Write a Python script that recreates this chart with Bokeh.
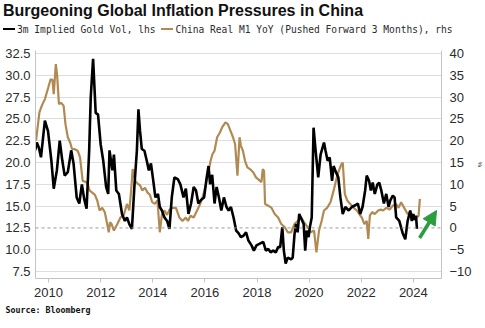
from bokeh.plotting import figure
from bokeh.layouts import column
from bokeh.models import (Range1d, LinearAxis, FixedTicker, Span, Arrow, Title,
                          NormalHead, NumeralTickFormatter, Div)
from bokeh.embed import file_html
from bokeh.resources import INLINE

# ---------------- data ----------------
vol_t = [2009.49, 2009.55, 2009.63, 2009.71, 2009.86, 2009.98, 2010.11, 2010.20, 2010.32, 2010.43,
         2010.53, 2010.62, 2010.74, 2010.87, 2010.96, 2011.08, 2011.18, 2011.28, 2011.37, 2011.46,
         2011.56, 2011.62, 2011.71, 2011.81, 2011.90, 2012.00, 2012.10, 2012.21, 2012.29, 2012.34,
         2012.45, 2012.51, 2012.60, 2012.70, 2012.82, 2012.93, 2013.01, 2013.10, 2013.20, 2013.30,
         2013.39, 2013.45, 2013.51, 2013.58, 2013.68, 2013.77, 2013.85, 2013.93, 2014.02, 2014.10,
         2014.20, 2014.27, 2014.35, 2014.45, 2014.55, 2014.64, 2014.73, 2014.83, 2014.96, 2015.06,
         2015.18, 2015.27, 2015.37, 2015.47, 2015.57, 2015.66, 2015.75, 2015.85, 2015.97, 2016.07,
         2016.14, 2016.20, 2016.28, 2016.37, 2016.45, 2016.54, 2016.63, 2016.73, 2016.83, 2016.91,
         2017.00, 2017.10, 2017.20, 2017.29, 2017.38, 2017.48, 2017.58, 2017.67, 2017.79, 2017.88,
         2017.98, 2018.11, 2018.24, 2018.34, 2018.43, 2018.52, 2018.62, 2018.72, 2018.81, 2018.89,
         2018.97, 2019.03, 2019.10, 2019.18, 2019.31, 2019.37, 2019.44, 2019.50, 2019.56, 2019.62,
         2019.71, 2019.79, 2019.85, 2019.91, 2019.98, 2020.03, 2020.10, 2020.17, 2020.25, 2020.35,
         2020.44, 2020.57, 2020.63, 2020.71, 2020.79, 2020.88, 2020.94, 2021.03, 2021.12, 2021.20,
         2021.29, 2021.39, 2021.52, 2021.64, 2021.77, 2021.87, 2021.96, 2022.05, 2022.15, 2022.21,
         2022.30, 2022.37, 2022.44, 2022.52, 2022.62, 2022.69, 2022.77, 2022.87, 2022.96, 2023.05,
         2023.12, 2023.21, 2023.28, 2023.34, 2023.46, 2023.59, 2023.69, 2023.78, 2023.88, 2023.94,
         2024.00, 2024.05, 2024.10, 2024.14]
vol_v = [21.4, 22.3, 21.7, 20.6, 24.8, 23.6, 20.2, 17.0, 19.1, 22.5,
         20.2, 18.5, 18.9, 21.4, 19.9, 16.0, 15.3, 17.5, 15.8, 14.7,
         21.4, 27.5, 31.9, 25.7, 25.5, 22.1, 20.2, 17.2, 16.4, 21.4,
         19.1, 20.9, 16.8, 16.4, 14.1, 13.3, 13.7, 12.95, 12.4, 17.5,
         21.35, 26.1, 23.65, 21.55, 21.35, 20.2, 19.1, 19.9, 17.9, 16.0,
         16.4, 14.9, 14.5, 13.7, 13.3, 12.4, 16.0, 18.3, 18.1, 17.5,
         16.0, 17.0, 14.1, 15.3, 17.2, 16.8, 15.3, 15.7, 16.0, 18.3,
         19.6, 17.5, 18.6, 15.3, 17.2, 16.0, 14.5, 16.0, 14.9, 14.5,
         14.9, 13.7, 12.2, 11.9, 11.45, 11.6, 12.0, 11.05, 10.5, 9.9,
         10.5, 10.7, 10.9, 9.9, 10.1, 9.7, 9.9, 9.7, 10.3, 10.3,
         12.6, 9.9, 8.4, 9.1, 8.9, 9.1, 11.8, 12.95, 12.0, 14.1,
         13.5, 12.95, 9.9, 12.2, 11.45, 12.6, 13.7, 24.0, 21.35, 18.3,
         20.9, 22.3, 21.35, 20.2, 20.6, 17.9, 19.6, 18.9, 18.3, 16.0,
         14.1, 14.9, 14.5, 14.9, 15.1, 15.3, 14.1, 14.9, 16.8, 18.5,
         17.9, 16.8, 17.7, 16.4, 17.5, 17.7, 16.8, 15.3, 16.4, 14.9,
         15.7, 16.2, 16.0, 13.7, 13.3, 11.9, 11.2, 13.3, 14.5, 13.3,
         14.1, 13.4, 13.9, 12.4]

m1_t = [2009.52, 2009.65, 2009.74, 2009.86, 2009.99, 2010.08, 2010.15, 2010.20, 2010.28, 2010.33,
        2010.40, 2010.49, 2010.58, 2010.65, 2010.74, 2010.83, 2010.90, 2010.99, 2011.12, 2011.21,
        2011.31, 2011.41, 2011.49, 2011.58, 2011.68, 2011.78, 2011.87, 2011.96, 2012.06, 2012.16,
        2012.25, 2012.31, 2012.36, 2012.42, 2012.51, 2012.64, 2012.76, 2012.89, 2013.01, 2013.10,
        2013.17, 2013.23, 2013.33, 2013.43, 2013.51, 2013.60, 2013.70, 2013.80, 2013.89, 2013.98,
        2014.08, 2014.18, 2014.27, 2014.35, 2014.45, 2014.55, 2014.64, 2014.77, 2014.89, 2015.02,
        2015.14, 2015.27, 2015.35, 2015.45, 2015.57, 2015.70, 2015.82, 2015.95, 2016.04, 2016.12,
        2016.22, 2016.29, 2016.37, 2016.47, 2016.58, 2016.66, 2016.79, 2016.88, 2016.98, 2017.08,
        2017.16, 2017.25, 2017.33, 2017.38, 2017.46, 2017.54, 2017.63, 2017.73, 2017.86, 2017.96,
        2018.04, 2018.17, 2018.22, 2018.27, 2018.31, 2018.43, 2018.56, 2018.68, 2018.81, 2018.93,
        2019.06, 2019.18, 2019.31, 2019.44, 2019.56, 2019.69, 2019.81, 2019.94, 2020.06, 2020.19,
        2020.28, 2020.38, 2020.48, 2020.57, 2020.69, 2020.82, 2020.94, 2021.03, 2021.10, 2021.14,
        2021.24, 2021.29, 2021.37, 2021.46, 2021.58, 2021.71, 2021.83, 2021.92, 2022.02, 2022.12,
        2022.21, 2022.27, 2022.33, 2022.42, 2022.52, 2022.65, 2022.75, 2022.84, 2022.96, 2023.09,
        2023.21, 2023.34, 2023.43, 2023.53, 2023.65, 2023.78, 2023.90, 2024.02, 2024.10, 2024.20,
        2024.25]
m1_v = [20.0, 26.5, 28.0, 29.55, 32.2, 34.1, 34.0, 30.7, 37.6, 35.0,
        28.4, 28.7, 28.0, 23.8, 20.8, 19.6, 18.1, 18.1, 17.7, 16.2,
        10.8, 10.6, 10.3, 8.55, 8.1, 7.6, 6.3, 4.0, 4.6, 3.6,
        0.9, -1.0, 1.3, 0.9, -0.6, 0.9, 2.4, 3.0, 5.5, 4.0,
        8.55, 13.5, 10.8, 10.1, 9.8, 8.6, 9.2, 8.1, 7.6, 5.9,
        5.5, 6.3, -1.0, 3.0, 4.0, 3.0, 4.2, 4.6, 4.6, 2.4,
        1.6, 2.4, 1.6, 2.8, 2.4, 4.0, 5.5, 7.8, 10.1, 12.4,
        15.4, 16.9, 17.7, 20.8, 21.9, 23.05, 24.2, 23.8, 22.3, 20.8,
        19.2, 12.0, 20.8, 18.9, 17.7, 15.4, 13.9, 13.5, 12.7, 11.6,
        11.2, 10.5, 13.5, 13.1, 5.5, 5.1, 4.6, 3.2, 2.4, 0.9,
        0.2, -1.0, -1.0, 0.9, 1.6, 2.4, 1.3, 0.2, -1.0, -0.6,
        -5.6, -0.6, 1.6, 4.0, 4.6, 5.9, 8.55, 10.8, 12.4, 13.1,
        14.6, 15.0, 7.8, 6.3, 5.5, 4.6, 4.0, 3.2, 2.4, 0.9,
        1.6, -2.5, 2.8, 3.6, 3.2, 4.0, 4.2, 4.0, 4.6, 4.2,
        5.1, 5.5, 4.6, 5.9, 4.6, 3.2, 3.6, 2.4, 2.2, 2.8,
        6.65]

x_ticks = [2010, 2012, 2014, 2016, 2018, 2020, 2022, 2024]
x_tick_labels = ["2010", "2012", "2014", "2016", "2018", "2020", "2022", "2024"]
lhs_ticks = [7.5, 10.0, 12.5, 15.0, 17.5, 20.0, 22.5, 25.0, 27.5, 30.0, 32.5]
rhs_ticks = [-10, -5, 0, 5, 10, 15, 20, 25, 30, 35, 40]

TITLE = "Burgeoning Global Inflation Pressures in China"
LEG1 = "3m Implied Gold Vol, lhs"
LEG2 = "China Real M1 YoY (Pushed Forward 3 Months), rhs"
SOURCE = "Source: Bloomberg"

# ---------------- styling ----------------
GOLD = "#b08a52"
BLACK = "#000000"
GREEN = "#2a9d3c"
GRID = "#dedede"
AXIS = "#c4c4c4"
TXT = "#2b2b2b"
TICKFONT = "Liberation Sans"
MONO = "DejaVu Sans Mono"
HEAD_H = 44

# ---------------- header: title + legend (HTML) ----------------
def swatch(color):
    return ('<span style="display:inline-block;width:12px;height:2.5px;background:%s;'
            'vertical-align:middle;margin-right:2px;position:relative;top:-1px"></span>' % color)

header_html = (
    '<div style="position:relative;width:485px;height:%dpx;margin:0;padding:0">' % HEAD_H
    + '<div style="position:absolute;left:3px;top:2px;white-space:nowrap;'
      'font-family:\'Liberation Sans\';font-weight:bold;font-size:16px;line-height:18px;'
      'color:#111111">%s</div>' % TITLE
    + '<div style="position:absolute;left:3px;top:24px;white-space:nowrap;'
      'font-family:\'%s\';font-size:9.6px;line-height:12px;color:%s">' % (MONO, TXT)
    + swatch(BLACK) + LEG1 + ' ' + swatch(GOLD) + LEG2
    + '</div></div>'
)
h = Div(text=header_html, width=485, height=HEAD_H, margin=0)

# ---------------- main chart ----------------
p = figure(width=485, height=328 - HEAD_H, output_backend="svg", toolbar_location=None,
           x_range=Range1d(2009.5, 2025.08), y_range=Range1d(6.7, 32.85),
           min_border_left=35, min_border_right=36, min_border_top=50 - HEAD_H,
           min_border_bottom=50, margin=0,
           background_fill_color="white", border_fill_color="white")
p.outline_line_color = None
p.extra_y_ranges = {"rhs": Range1d(-11.6, 40.7)}

p.xaxis.ticker = FixedTicker(ticks=x_ticks)
p.xaxis.major_label_overrides = {t: s for t, s in zip(x_ticks, x_tick_labels)}
p.xaxis.axis_line_color = AXIS
p.xaxis.major_tick_line_color = AXIS
p.xaxis.major_tick_out = 4
p.xaxis.major_tick_in = 0
p.xaxis.minor_tick_line_color = None
p.xaxis.major_label_standoff = 5
p.xaxis.major_label_text_font = TICKFONT
p.xaxis.major_label_text_font_size = "13px"
p.xaxis.major_label_text_color = TXT

p.yaxis.ticker = FixedTicker(ticks=lhs_ticks)
p.yaxis.formatter = NumeralTickFormatter(format="0.0")
p.yaxis.axis_line_color = AXIS
p.yaxis.major_tick_line_color = None
p.yaxis.major_tick_out = 0
p.yaxis.major_tick_in = 0
p.yaxis.minor_tick_line_color = None
p.yaxis.major_label_standoff = 5
p.yaxis.major_label_text_font = TICKFONT
p.yaxis.major_label_text_font_size = "13px"
p.yaxis.major_label_text_color = TXT

ra = LinearAxis(y_range_name="rhs", ticker=FixedTicker(ticks=rhs_ticks))
ra.axis_line_color = AXIS
ra.major_tick_line_color = None
ra.major_tick_out = 0
ra.major_tick_in = 0
ra.minor_tick_line_color = None
ra.major_label_standoff = 8
ra.major_label_text_font = TICKFONT
ra.major_label_text_font_size = "13px"
ra.major_label_text_color = TXT
ra.axis_label = "%"
ra.axis_label_text_font = TICKFONT
ra.axis_label_text_font_size = "6px"
ra.axis_label_text_font_style = "normal"
ra.axis_label_text_color = TXT
ra.axis_label_standoff = 2
p.add_layout(ra, "right")

p.xgrid.visible = False
p.ygrid.ticker = FixedTicker(ticks=[t for t in lhs_ticks if t != 12.5])
p.ygrid.grid_line_color = GRID
p.ygrid.grid_line_width = 1
p.add_layout(Span(location=12.5, dimension="width", line_color="#9a9a9a",
                  line_dash="3 3", line_width=1))

p.line(m1_t, m1_v, y_range_name="rhs", line_color=GOLD, line_width=2.2)
p.line(vol_t, vol_v, line_color=BLACK, line_width=2.6)

p.add_layout(Arrow(end=NormalHead(size=14, fill_color=GREEN, line_color=GREEN),
                   x_start=2024.24, y_start=11.35, x_end=2024.89, y_end=14.5,
                   line_color=GREEN, line_width=3.5))

src = Title(text=SOURCE, align="left", offset=-30, text_font=MONO,
            text_font_style="bold", text_font_size="8.3px", text_color="#111111",
            standoff=6)
p.add_layout(src, "below")

layout = column(h, p, spacing=0, margin=0)
open("out.html", "w").write(file_html(layout, INLINE))
